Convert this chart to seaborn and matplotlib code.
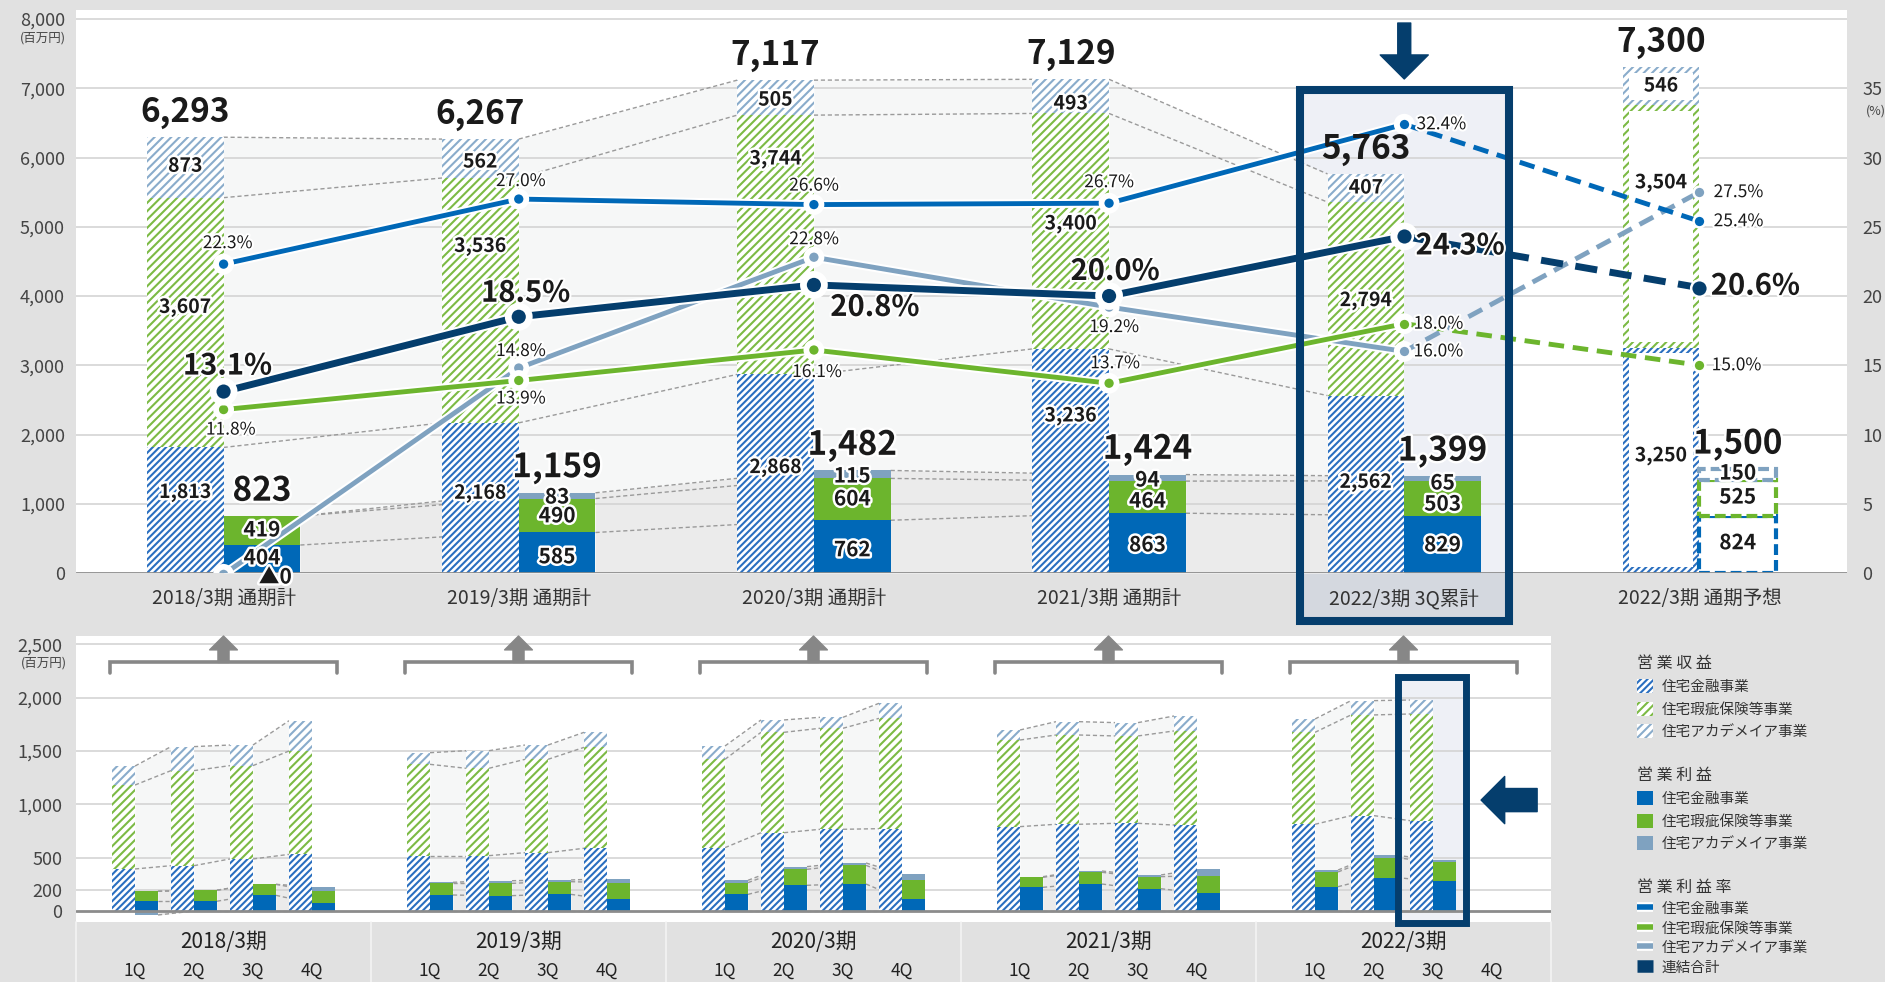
import numpy as np
import matplotlib.pyplot as plt
import matplotlib.patheffects as pe
import matplotlib.transforms as mtransforms
from matplotlib.patches import Patch, Rectangle
from matplotlib.lines import Line2D
import seaborn as sns

# annual figures (百万円)
periods = ["2018/3期 通期計", "2019/3期 通期計", "2020/3期 通期計",
           "2021/3期 通期計", "2022/3期 3Q累計", "2022/3期 通期予想"]
rev_fin = [1813, 2168, 2868, 3236, 2562, 3250]
rev_war = [3607, 3536, 3744, 3400, 2794, 3504]
rev_aca = [873, 562, 505, 493, 407, 546]
rev_total = [6293, 6267, 7117, 7129, 5763, 7300]
op_fin = [404, 585, 762, 863, 829, 824]
op_war = [419, 490, 604, 464, 503, 525]
op_aca = [0, 83, 115, 94, 65, 150]
op_total = [823, 1159, 1482, 1424, 1399, 1500]
op_aca_text = ["▲0", "83", "115", "94", "65", "150"]

# operating margin (%)
margin_fin = [22.3, 27.0, 26.6, 26.7, 32.4, 25.4]
margin_war = [11.8, 13.9, 16.1, 13.7, 18.0, 15.0]
margin_aca = [-0.1, 14.8, 22.8, 19.2, 16.0, 27.5]
margin_all = [13.1, 18.5, 20.8, 20.0, 24.3, 20.6]

# quarterly figures (2022/3期 4Q not reported yet)
fiscal_years = ["2018/3期", "2019/3期", "2020/3期", "2021/3期", "2022/3期"]
quarters = ["1Q", "2Q", "3Q", "4Q"]
q_rev_fin = [[394, 425, 488, 531], [519, 519, 547, 588], [594, 734, 766, 772],
             [791, 813, 822, 806], [813, 894, 847]]
q_rev_war = [[787, 891, 875, 969], [856, 819, 875, 946], [828, 941, 947, 1034],
             [812, 837, 819, 882], [862, 944, 1000]]
q_rev_aca = [[178, 225, 193, 284], [109, 165, 134, 141], [125, 116, 103, 141],
             [94, 125, 125, 140], [125, 134, 131]]
q_op_fin = [[92, 92, 147, 73], [150, 144, 156, 109], [156, 241, 253, 109],
            [222, 253, 209, 169], [228, 313, 281]]
q_op_war = [[93, 103, 103, 115], [109, 115, 119, 157], [110, 150, 175, 185],
            [94, 110, 113, 162], [138, 187, 175]]
q_op_aca = [[-37, 0, 0, 40], [10, 25, 16, 37], [22, 25, 22, 53],
            [6, 12, 16, 60], [18, 22, 25]]

seg_names = ["住宅金融事業", "住宅瑕疵保険等事業", "住宅アカデメイア事業"]

# ---- layout / style ----
sns.set_theme(style="white")
plt.rcParams["font.family"] = ["Noto Sans CJK JP", "DejaVu Sans"]
plt.rcParams["hatch.linewidth"] = 1.5
plt.rcParams["axes.unicode_minus"] = False

BG = "#e1e1e1"
C_FIN, C_WAR, C_ACA = "#0068b7", "#6cb52d", "#7fa2c0"
H_FIN, H_WAR, H_ACA = "#2a6fc0", "#7cba45", "#8aaccb"
NAVY = "#053e6d"
TXT = "#1a1a1a"
CONN = "#9a9a9a"
REV_FILL, OP_FILL = "#f6f7f7", "#ebebeb"
PCT = 200  # right axis: 35% sits on 7,000
halo = [pe.withStroke(linewidth=3.5, foreground="white")]

# where labels sit inside each segment (fraction of its height)
rev_label_frac = [[0.64, 0.53, 0.53, 0.70, 0.51, 0.52],
                  [0.56, 0.72, 0.83, 0.53, 0.49, 0.68],
                  [0.52, 0.41, 0.43, 0.28, 0.50, 0.51]]
op_label_frac = [[0.54, 0.40, 0.44, 0.47, 0.49, 0.53],
                 [0.52, 0.49, 0.51, 0.38, 0.33, 0.52],
                 [0.0, 0.27, 0.30, 0.17, -0.5, 0.63]]
# margin label offsets in pixels (dx, dy)
fin_off = [(4, 21), (2, 18), (0, 19), (0, 21), (37, 0), (39, 0)]
war_off = [(7, -20), (2, -18), (3, -22), (6, 20), (34, 0), (37, 0)]
aca_off = [(0, 20), (2, 17), (0, 18), (5, -20), (34, 0), (39, 0)]
all_off = [(4, 26), (7, 24), (61, -22), (6, 25), (56, -9), (56, 2)]

W, H = 1885, 982
fig = plt.figure(figsize=(W / 100, H / 100), dpi=100, facecolor=BG)


def px_rect(l, t, r, b):
    return [l / W, 1 - b / H, (r - l) / W, (b - t) / H]


ax = fig.add_axes(px_rect(76, 10, 1847, 573))
axq = fig.add_axes(px_rect(76, 636, 1551, 922))

# ================= annual panel =================
n = len(periods)
x = np.arange(n)
bw = 0.26
ax.set_xlim(-0.5, n - 0.5)
ax.set_ylim(0, 8130)
ax.set_facecolor("white")
for s in ax.spines.values():
    s.set_visible(False)
yt = np.arange(0, 8001, 1000)
ax.set_yticks(yt)
ax.set_yticklabels([f"{v:,}" for v in yt], fontsize=13, color="#444")
ax.tick_params(axis="y", length=0, pad=8)
ax.set_xticks(x)
ax.set_xticklabels(periods, fontsize=14, color="#333")
ax.tick_params(axis="x", length=0, pad=11)
for v in yt[1:]:
    ax.axhline(v, color="#d4d4d4", lw=1.2, zorder=1.2)
ax.axhline(0, color="#8c8c8c", lw=2, zorder=3)

rev = np.array([rev_fin, rev_war, rev_aca], dtype=float)
rev_cum = np.vstack([np.zeros(n), np.cumsum(rev, axis=0)])
op = np.array([op_fin, op_war, op_aca], dtype=float)
op_cum = np.vstack([np.zeros(n), np.cumsum(op, axis=0)])

# highlight of 2022/3期 3Q累計
hl = 4
ax.add_patch(Rectangle((hl - 0.354, 0), 0.708, 6968, facecolor="#eef0f6", lw=0, zorder=0.3))
ax.add_patch(Rectangle((hl - 0.354, -693), 0.708, 693, facecolor="#d4d8df", lw=0,
                       zorder=0.2, clip_on=False))
ax.add_patch(Rectangle((hl - 0.354, -693), 0.708, 7661, fill=False, edgecolor=NAVY,
                       lw=5.8, zorder=7, clip_on=False))
ax.annotate("", xy=(hl, 7134), xytext=(hl, 7942), annotation_clip=False,
            arrowprops=dict(arrowstyle="simple,head_length=0.5,head_width=1.0,tail_width=0.27",
                            mutation_scale=34.6, color=NAVY, shrinkA=0, shrinkB=0), zorder=7)

# connectors between the actual years
for i in range(n - 2):
    xs = [x[i], x[i + 1] - bw]
    ax.fill_between(xs, 0, [rev_cum[3, i], rev_cum[3, i + 1]], color=REV_FILL, lw=0, zorder=1)
    for k in (1, 2, 3):
        ax.plot(xs, [rev_cum[k, i], rev_cum[k, i + 1]], color=CONN, lw=1, ls=(0, (3, 2)), zorder=1.5)
    xs = [x[i] + bw, x[i + 1]]
    ax.fill_between(xs, 0, [op_cum[3, i], op_cum[3, i + 1]], color=OP_FILL, lw=0, zorder=1.1)
    for k in (1, 2, 3):
        ax.plot(xs, [op_cum[k, i], op_cum[k, i + 1]], color=CONN, lw=1, ls=(0, (3, 2)), zorder=1.5)

# revenue bars (hatched)
hatches = ["/////", "////", "////"]
hcols = [H_FIN, H_WAR, H_ACA]
for k in range(3):
    ax.bar(x - bw / 2, rev[k], bottom=rev_cum[k], width=bw, color="white",
           edgecolor=hcols[k], hatch=hatches[k], lw=0, zorder=2)
# forecast: only a hatched frame
fc = n - 1
for k in range(3):
    ax.bar(x[fc] - bw / 2, rev[k, fc] - 160, bottom=rev_cum[k, fc] + 80, width=bw - 0.044,
           color="white", lw=0, zorder=2.1)

# operating profit bars
pcols = [C_FIN, C_WAR, C_ACA]
for k in range(3):
    ax.bar(x[:-1] + bw / 2, op[k, :-1], bottom=op_cum[k, :-1], width=bw, color=pcols[k],
           lw=0, zorder=2)
    ax.bar(x[-1] + bw / 2, op[k, -1], bottom=op_cum[k, -1], width=bw, facecolor="white",
           edgecolor=pcols[k], lw=3, ls=(0, (2.6, 1.2)), zorder=2.2)

# bar labels
for i in range(n):
    for k in range(3):
        ax.text(x[i] - bw / 2, rev_cum[k, i] + rev_label_frac[k][i] * rev[k, i], f"{int(rev[k, i]):,}",
                ha="center", va="center", fontsize=14, fontweight="bold", color=TXT,
                path_effects=halo, zorder=8)
        if op[k, i] == 0:
            ax.text(x[i] + bw / 2 + 0.045, -58, op_aca_text[i], ha="center", va="center",
                    fontsize=15, fontweight="bold", color=TXT, path_effects=halo, zorder=8)
            continue
        txt = op_aca_text[i] if k == 2 else f"{int(op[k, i]):,}"
        ax.text(x[i] + bw / 2, op_cum[k, i] + op_label_frac[k][i] * op[k, i], txt,
                ha="center", va="center", fontsize=15, fontweight="bold", color=TXT,
                path_effects=halo, zorder=8)
    ax.annotate(f"{rev_total[i]:,}", (x[i] - bw / 2, rev_total[i]), xytext=(0, 6),
                textcoords="offset points", ha="center", va="bottom", fontsize=24,
                fontweight="bold", color=TXT, zorder=8)
    ax.annotate(f"{op_total[i]:,}", (x[i] + bw / 2, op_total[i]), xytext=(0, 6),
                textcoords="offset points", ha="center", va="bottom", fontsize=24,
                fontweight="bold", color=TXT, path_effects=halo, zorder=8)

# operating margin lines
series = [(margin_aca, C_ACA, 3.5, 8.5, 12.5, "normal", aca_off),
          (margin_war, C_WAR, 3.5, 8.5, 12.5, "normal", war_off),
          (margin_fin, C_FIN, 3.5, 8.5, 12.5, "normal", fin_off),
          (margin_all, NAVY, 5, 12, 21, "bold", all_off)]
for vals, col, lw, ms, fs, fw, offs in series:
    yv = np.array(vals) * PCT
    stroke = [pe.Stroke(linewidth=lw + 3, foreground="white"), pe.Normal()]
    sns.lineplot(x=x[:5], y=yv[:5], ax=ax, color=col, lw=lw, marker="o", ms=ms,
                 mec="white", mew=1.8, path_effects=stroke, zorder=5)
    sns.lineplot(x=x[4:], y=yv[4:], ax=ax, color=col, lw=lw, ls=(0, (3.2, 1.8)), marker="o",
                 ms=ms, mec="white", mew=1.8, zorder=5)
    for i in range(n):
        ax.annotate(f"{vals[i]:.1f}%", (x[i], yv[i]), xytext=offs[i], textcoords="offset pixels",
                    ha="center", va="center", fontsize=fs, fontweight=fw, color=TXT,
                    path_effects=[pe.withStroke(linewidth=3, foreground="white")], zorder=9)

sec = ax.secondary_yaxis("right", functions=(lambda v: v / PCT, lambda p: p * PCT))
sec.set_yticks(np.arange(0, 36, 5))
sec.tick_params(length=0, pad=11, labelsize=13, labelcolor="#444")
for s in sec.spines.values():
    s.set_visible(False)
fig.text(66 / W, 1 - 38 / H, "(百万円)", ha="right", va="center", fontsize=9, color="#444")
fig.text(1876 / W, 1 - 111 / H, "(%)", ha="center", va="center", fontsize=9, color="#444")

# ================= quarterly panel =================
ng = len(fiscal_years)
q_off = np.array([-0.3, -0.1, 0.1, 0.3])
qbw = 0.078
axq.set_xlim(-0.5, ng - 0.5)
axq.set_ylim(-103, 2578)
axq.set_facecolor("white")
for s in axq.spines.values():
    s.set_visible(False)
qt = [0, 200, 500, 1000, 1500, 2000, 2500]
axq.set_yticks(qt)
axq.set_yticklabels([f"{v:,}" for v in qt], fontsize=13, color="#444")
axq.tick_params(axis="y", length=0, pad=10)
axq.set_xticks([])
for v in qt[1:]:
    axq.axhline(v, color="#d4d4d4", lw=1.2, zorder=1.2)
axq.axhline(0, color="#8c8c8c", lw=2, zorder=3)
fig.text(67 / W, 1 - 663 / H, "(百万円)", ha="right", va="center", fontsize=9, color="#444")

# highlight of 2022/3期 3Q
hq = ng - 1 + q_off[2]
axq.add_patch(Rectangle((hq - 0.12, -103), 0.233, 2301, facecolor="#eef0f6", lw=0, zorder=0.3))
axq.add_patch(Rectangle((hq - 0.12, -108), 0.233, 2306, fill=False, edgecolor=NAVY, lw=5,
                        zorder=7, clip_on=False))
axq.annotate("", xy=(hq + 0.163, 1040), xytext=(hq + 0.353, 1040),
             arrowprops=dict(arrowstyle="simple,head_length=0.5,head_width=1.0,tail_width=0.49",
                             mutation_scale=34, color=NAVY, shrinkA=0, shrinkB=0), zorder=7)

tb = mtransforms.blended_transform_factory(axq.transData, axq.transAxes)
for g in range(ng):
    nq = len(q_rev_fin[g])
    qx = g + q_off[:nq]
    qr = np.array([q_rev_fin[g], q_rev_war[g], q_rev_aca[g]], dtype=float)
    qr_cum = np.vstack([np.zeros(nq), np.cumsum(qr, axis=0)])
    aca = np.array(q_op_aca[g], dtype=float)
    qo = np.array([q_op_fin[g], q_op_war[g], np.clip(aca, 0, None)], dtype=float)
    qo_cum = np.vstack([np.zeros(nq), np.cumsum(qo, axis=0)])
    qneg = np.clip(aca, None, 0)

    for q in range(nq - 1):
        xs = [qx[q], qx[q + 1] - qbw]
        axq.fill_between(xs, 0, [qr_cum[3, q], qr_cum[3, q + 1]], color=REV_FILL, lw=0, zorder=1)
        for k in (1, 2, 3):
            axq.plot(xs, [qr_cum[k, q], qr_cum[k, q + 1]], color=CONN, lw=1, ls=(0, (3, 2)), zorder=1.5)
        xs = [qx[q] + qbw, qx[q + 1]]
        axq.fill_between(xs, [qneg[q], qneg[q + 1]], [qo_cum[3, q], qo_cum[3, q + 1]],
                         color=OP_FILL, lw=0, zorder=1.1)
        for lv in (qo_cum[1], qo_cum[2], qo_cum[3], qneg):
            axq.plot(xs, [lv[q], lv[q + 1]], color=CONN, lw=1, ls=(0, (3, 2)), zorder=1.5)

    for k in range(3):
        axq.bar(qx - qbw / 2, qr[k], bottom=qr_cum[k], width=qbw, color="white",
                edgecolor=hcols[k], hatch=hatches[k], lw=0, zorder=2)
        axq.bar(qx + qbw / 2, qo[k], bottom=qo_cum[k], width=qbw, color=pcols[k], lw=0, zorder=2)
    axq.bar(qx + qbw / 2, qneg, width=qbw, color=C_ACA, lw=0, zorder=2)

    # bracket pointing up to the annual panel
    axq.plot([g - 0.385, g - 0.385, g + 0.385, g + 0.385], [2231, 2334, 2334, 2231],
             color="#878787", lw=2.6, solid_joinstyle="miter", zorder=3)
    axq.annotate("", xy=(g, 2578), xytext=(g, 2330), annotation_clip=False,
                 arrowprops=dict(arrowstyle="simple,head_length=0.5,head_width=1.0,tail_width=0.4",
                                 mutation_scale=20, color="#878787", shrinkA=0, shrinkB=0), zorder=3)

    axq.text(g, -0.07, fiscal_years[g], transform=tb, ha="center", va="center",
             fontsize=15, color="#222")
    for q, qlab in enumerate(quarters):
        axq.text(g + q_off[q], -0.138, qlab, transform=tb, ha="center", va="top",
                 fontsize=12.5, color="#222")

for b in np.arange(-0.5, ng, 1.0):
    axq.plot([b, b], [0, -0.3], transform=tb, color="#f4f4f4", lw=1.2, clip_on=False, zorder=0.5)

# ================= legend =================
rev_handles = [Patch(facecolor="white", edgecolor=c, hatch=h, lw=0, label=s)
               for c, h, s in zip(hcols, hatches, seg_names)]
op_handles = [Patch(facecolor=c, lw=0, label=s) for c, s in zip(pcols, seg_names)]
rate_handles = [Line2D([], [], color=c, lw=4, solid_capstyle="butt", label=s,
                       path_effects=[pe.Stroke(linewidth=7, foreground="white"), pe.Normal()])
                for c, s in zip(pcols, seg_names)]
rate_handles.append(Line2D([], [], color=NAVY, lw=9, solid_capstyle="butt", label="連結合計"))

common = dict(loc="upper left", frameon=False, fontsize=10.5, title_fontsize=11.5,
              alignment="left", borderpad=0, borderaxespad=0, handlelength=1.1,
              handleheight=1.1, handletextpad=0.6, labelcolor="#333")
for handles, title, top, spacing in [(rev_handles, "営 業 収 益", 655, 0.5),
                                      (op_handles, "営 業 利 益", 767, 0.5),
                                      (rate_handles, "営 業 利 益 率", 879, 0.33)]:
    leg = fig.legend(handles=handles, title=title, bbox_to_anchor=(1637 / W, 1 - top / H),
                     labelspacing=spacing, **common)
    leg.get_title().set_color("#333")

fig.savefig("out.png", dpi=100, facecolor=BG)
